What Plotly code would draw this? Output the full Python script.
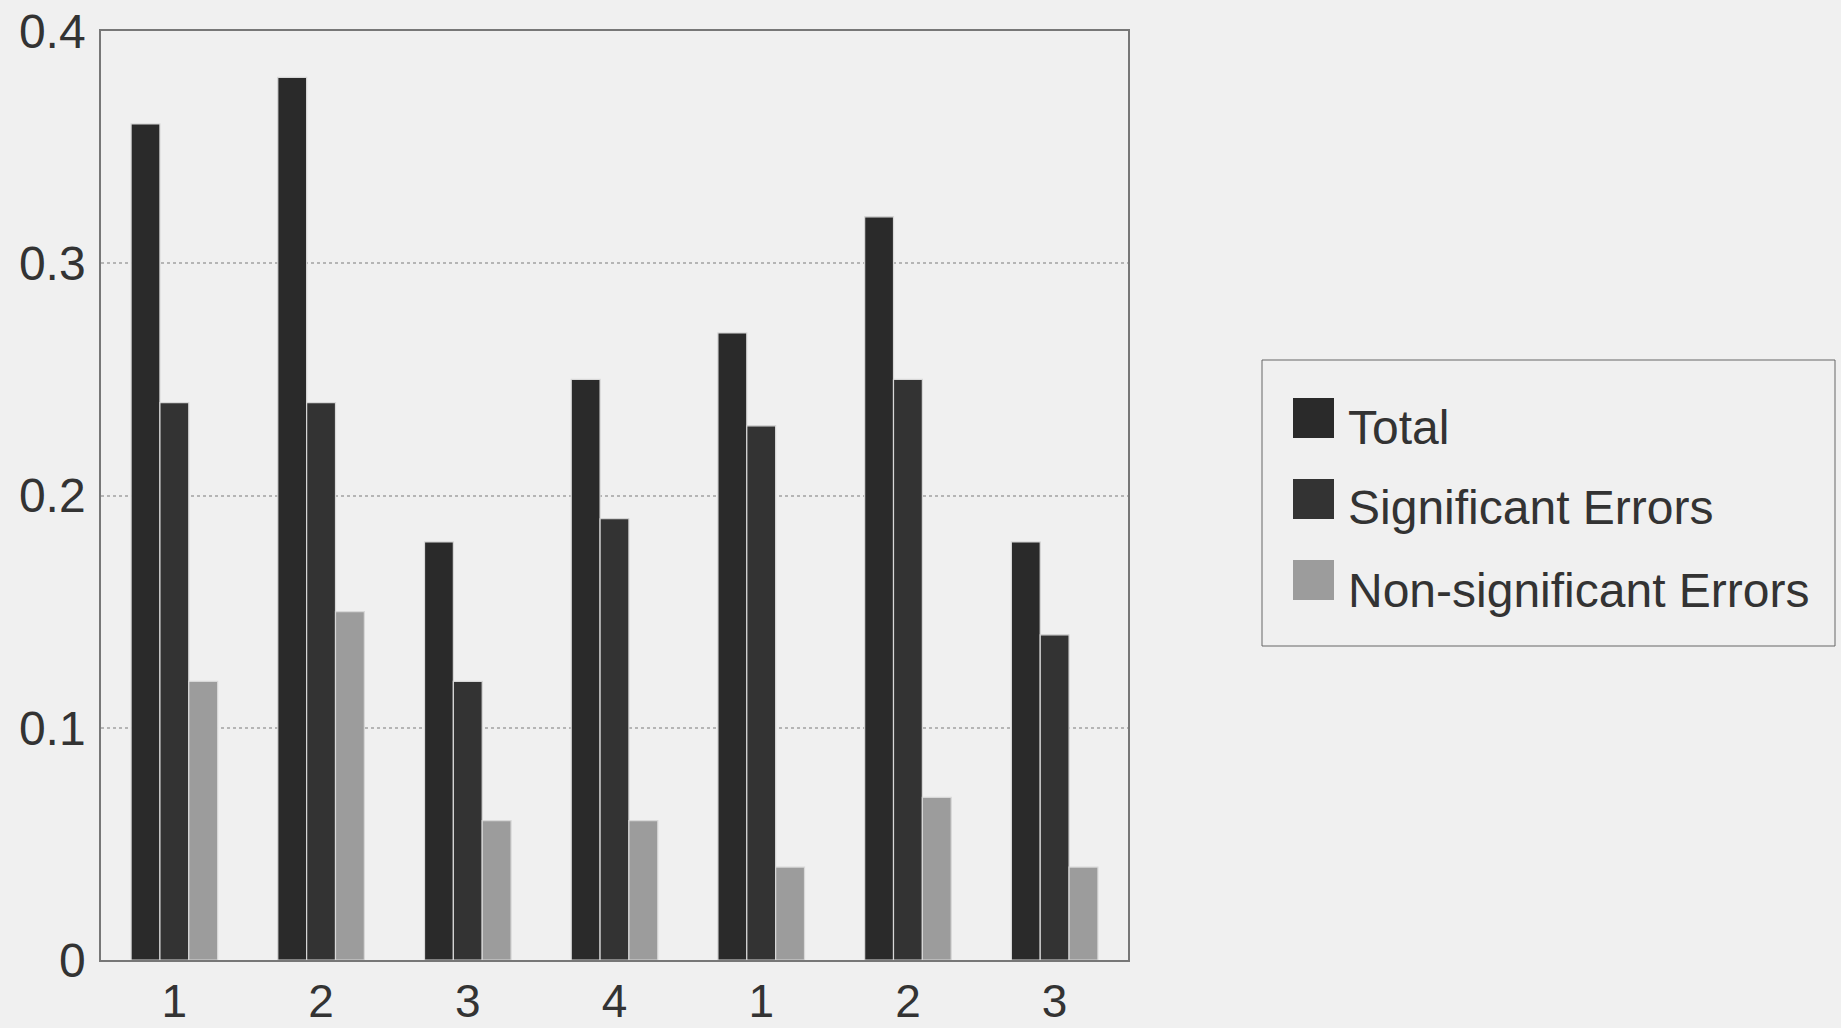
import plotly.graph_objects as go

tick_labels = ["1", "2", "3", "4", "1", "2", "3"]
positions = list(range(len(tick_labels)))
total = [0.36, 0.38, 0.18, 0.25, 0.27, 0.32, 0.18]
significant = [0.24, 0.24, 0.12, 0.19, 0.23, 0.25, 0.14]
non_significant = [0.12, 0.15, 0.06, 0.06, 0.04, 0.07, 0.04]

series_names = ["Total", "Significant Errors", "Non-significant Errors"]
series_values = [total, significant, non_significant]
series_colors = ["#2a2a2a", "#333333", "#9c9c9c"]

W, H = 1841, 1028
ML, MR, MT, MB = 101, 713, 31, 68
BG = "#f0f0f0"
FONT = "Liberation Sans, Arial, sans-serif"

pw, ph = W - ML - MR, H - MT - MB


def px_x(x):
    return (x - ML) / pw


def px_y(y):
    return (H - MB - y) / ph


fig = go.Figure()
for name, vals, col in zip(series_names, series_values, series_colors):
    fig.add_trace(go.Bar(
        x=positions, y=vals, name=name,
        marker=dict(color=col, line=dict(color="#d8d8d8", width=1.2)),
        showlegend=False,
    ))

# legend drawn as a box with swatches (larger swatches than native legend allows)
shapes = [dict(type="rect", xref="paper", yref="paper",
               x0=px_x(1262), x1=px_x(1835), y0=px_y(646), y1=px_y(360),
               line=dict(color="#666666", width=1), fillcolor=BG, layer="below")]
annotations = []
sw_top = [398, 479, 560]
text_cy = [427, 508, 590]
for name, col, t, cy in zip(series_names, series_colors, sw_top, text_cy):
    shapes.append(dict(type="rect", xref="paper", yref="paper",
                       x0=px_x(1293), x1=px_x(1334), y0=px_y(t + 40), y1=px_y(t),
                       line=dict(width=0), fillcolor=col))
    annotations.append(dict(xref="paper", yref="paper", x=px_x(1346), y=px_y(cy),
                            xanchor="left", yanchor="middle", showarrow=False,
                            text=name, font=dict(family=FONT, size=48, color="#333333")))

fig.update_layout(
    width=W, height=H, autosize=False,
    barmode="group",
    bargap=0.41,
    bargroupgap=0,
    paper_bgcolor=BG,
    plot_bgcolor=BG,
    margin=dict(l=ML, r=MR, t=MT, b=MB),
    font=dict(family=FONT, size=48, color="#333333"),
    showlegend=False,
    shapes=shapes,
    annotations=annotations,
    xaxis=dict(
        range=[-0.5, 6.5], automargin=False,
        tickmode="array", tickvals=positions, ticktext=tick_labels,
        showgrid=False, zeroline=False,
        showline=True, linecolor="#777777", linewidth=1.5, mirror=True,
        ticks="", ticklabelstandoff=0, ticklabeloverflow="allow",
        tickfont=dict(size=46, color="#333333"),
    ),
    yaxis=dict(
        range=[0, 0.40001], automargin=False,
        tickmode="array", tickvals=[0, 0.1, 0.2, 0.3, 0.4],
        ticktext=["0", "0.1", "0.2", "0.3", "0.4"],
        showgrid=True, gridcolor="#b5b5b5", gridwidth=1.5, griddash="dot",
        zeroline=False,
        showline=True, linecolor="#777777", linewidth=1.5, mirror=True,
        ticks="", ticklabelstandoff=4, ticklabeloverflow="allow",
        tickfont=dict(size=48, color="#333333"),
    ),
)

fig.write_html(
    "out.html",
    config={"displayModeBar": False},
    post_script="document.body.style.margin='0';document.body.style.background='#f0f0f0';document.body.style.overflow='hidden';",
)
